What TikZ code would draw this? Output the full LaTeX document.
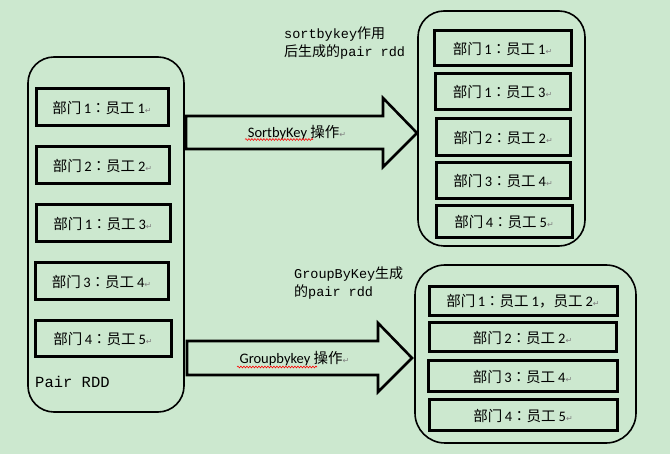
\documentclass[tikz,border=0pt]{standalone}
\usepackage{fontspec}
\setmainfont{Carlito}
\newfontfamily\cjk{Noto Sans CJK SC}
\newfontfamily\cjkp{Noto Sans CJK TC}
\newfontfamily\monof{Liberation Mono}
\newfontfamily\dvf{DejaVu Sans}
\usetikzlibrary{decorations.pathmorphing}
\definecolor{bg}{RGB}{204,232,207}
\newcommand\pmark{{\dvf\color{gray}\fontsize{8}{8}\selectfont ↵}}
\newcommand\bmyg[2]{{\cjk 部门}\hspace{2.5pt}#1{\cjkp ：}{\cjk 员工}\hspace{3pt}#2\pmark}
\begin{document}
\begin{tikzpicture}[x=1pt,y=-1pt,
  container/.style={draw,line width=1.6pt,rounded corners=26pt,inner sep=0pt},
  item/.style={draw,line width=3pt,inner sep=0pt,font=\fontsize{14.5}{16}\selectfont},
  blockarrow/.style={draw,line width=2.6pt,line join=miter},
  oplabel/.style={font=\fontsize{14.5}{16}\selectfont,inner sep=0pt},
  note/.style={font=\fontsize{13.5}{19}\selectfont,align=left,inner sep=0pt,anchor=north west},
  squiggle/.style={red,line width=0.6pt,decorate,decoration={snake,amplitude=0.9pt,segment length=3pt}}]
\fill[bg] (0,0) rectangle (670,454);
\useasboundingbox (0,0) rectangle (670,454);
% containers
\node[container,minimum width=156pt,minimum height=355pt] (left) at (106,234.5) {};
\node[container,minimum width=167pt,minimum height=235pt] (sorted) at (501.5,128.5) {};
\node[container,minimum width=221pt,minimum height=178pt,rounded corners=30pt] (grouped) at (525.5,354) {};
% left items
\node[item,minimum width=132pt,minimum height=37pt] (l1) at (102,107.5) {\bmyg{1}{1}};
\node[item,minimum width=133pt,minimum height=37pt] (l2) at (102.5,165.5) {\bmyg{2}{2}};
\node[item,minimum width=134pt,minimum height=37pt] (l3) at (103,223.5) {\bmyg{1}{3}};
\node[item,minimum width=133pt,minimum height=37pt] (l4) at (101.5,281.5) {\bmyg{3}{4}};
\node[item,minimum width=136pt,minimum height=36pt] (l5) at (103,339) {\bmyg{4}{5}};
\node[font=\monof\fontsize{15.5}{17}\selectfont,anchor=west,inner sep=0pt] (pairrdd) at (35,382) {Pair RDD};
% sorted items
\node[item,minimum width=137pt,minimum height=35pt] (s1) at (502.5,48.5) {\bmyg{1}{1}};
\node[item,minimum width=135pt,minimum height=36pt] (s2) at (502.5,92) {\bmyg{1}{3}};
\node[item,minimum width=134pt,minimum height=37pt] (s3) at (503,137.5) {\bmyg{2}{2}};
\node[item,minimum width=134pt,minimum height=36pt] (s4) at (503,181) {\bmyg{3}{4}};
\node[item,minimum width=136pt,minimum height=32pt] (s5) at (504,222) {\bmyg{4}{5}};
% grouped items
\node[item,minimum width=188pt,minimum height=29pt] (g1) at (523,301.5) {{\cjk 部门}\hspace{2.5pt}1{\cjkp ：}{\cjk 员工}\hspace{3pt}1{\cjk ，员工}\hspace{3pt}2\pmark};
\node[item,minimum width=187pt,minimum height=29pt] (g2) at (522.5,337.5) {\bmyg{2}{2}};
\node[item,minimum width=189pt,minimum height=31pt] (g3) at (522.5,376.5) {\bmyg{3}{4}};
\node[item,minimum width=188pt,minimum height=31pt] (g4) at (523,415.5) {\bmyg{4}{5}};
% block arrows
\draw[blockarrow] (186,116) -- (383,116) -- (383,98) -- (417,133) -- (383,167) -- (383,149) -- (186,149) -- cycle;
\node[oplabel] (sortop) at (297,133) {SortbyKey {\cjk 操作}\pmark};
\draw[squiggle] (245,139.5) -- (313,139.5);
\draw[blockarrow] (187,341) -- (378,341) -- (378,323) -- (412,358) -- (378,392) -- (378,375) -- (187,375) -- cycle;
\node[oplabel] (groupop) at (294.5,359) {Groupbykey {\cjk 操作}\pmark};
\draw[squiggle] (237,367) -- (317,367);
% notes
\node[note] (sortnote) at (284,27) {{\monof sortbykey}{\cjk\fontsize{14}{19}\selectfont 作用}\\[-1pt]{\cjk\fontsize{14}{19}\selectfont 后生成的}{\monof pair rdd}};
\node[note] (groupnote) at (294,267) {{\monof GroupByKey}{\cjk\fontsize{14}{19}\selectfont 生成}\\[-1pt]{\cjk\fontsize{14}{19}\selectfont 的}{\monof pair rdd}};
\end{tikzpicture}
\end{document}
